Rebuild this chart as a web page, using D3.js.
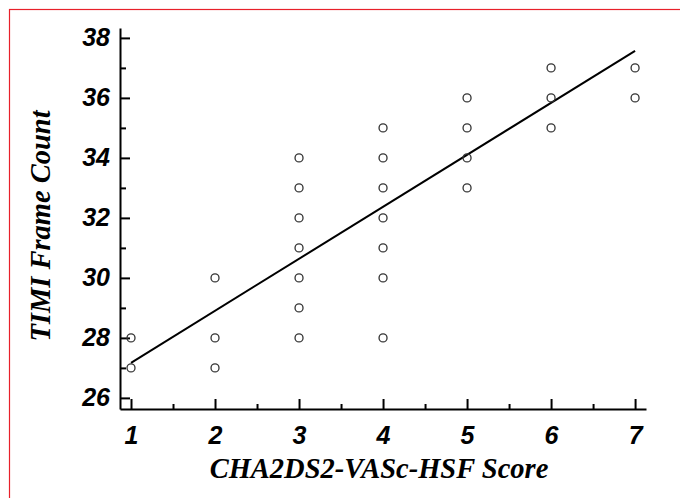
<!DOCTYPE html>
<html>
<head>
<meta charset="utf-8">
<script src="https://cdn.jsdelivr.net/npm/d3@7"></script>
<style>
  body { margin: 0; background: #fff; }
  svg { display: block; }
</style>
</head>
<body>
<div id="plot"></div>
<script>
'use strict';

// score groups and the TIMI frame counts
var scores = [1, 2, 3, 4, 5, 6, 7];
var counts = [
    [28, 27],
    [30, 28, 27],
    [34, 33, 32, 31, 30, 29, 28],
    [35, 34, 33, 32, 31, 30, 28],
    [36, 35, 34, 33],
    [37, 36, 35],
    [37, 36]
];
// fitted line, value at score 1 and score 7
var fitX = [1, 7];
var fitY = [27.17, 37.57];
var xTicks = [1, 2, 3, 4, 5, 6, 7];
var yTicks = [26, 28, 30, 32, 34, 36, 38];

var width = 680, height = 498;

var svg = d3.select('#plot')
    .append('svg')
        .attr('width', width)
        .attr('height', height);

// red frame, only top and left fall in the picture
svg.append('rect')
    .attr('x', 9.5).attr('y', 9.5)
    .attr('width', 700).attr('height', 520)
    .style('fill', 'none')
    .style('stroke', '#e8202a')
    .style('stroke-width', 1.2);

var x = d3.scaleLinear().domain([0.869, 7.13]).range([120, 646]);
var y = d3.scaleLinear().domain([25.63, 38.33]).range([409, 28]);

var points = [];
scores.forEach(function (s, i) {
    counts[i].forEach(function (c) { points.push({ s: s, c: c }); });
});

// axes: ticks point inward, minor ticks halfway between
var xAxis = d3.axisBottom(x).tickValues(xTicks).tickFormat(d3.format('d'))
    .tickSizeInner(-10).tickSizeOuter(0).tickPadding(17);
var yAxis = d3.axisLeft(y).tickValues(yTicks).tickFormat(d3.format('d'))
    .tickSizeInner(-10).tickSizeOuter(0).tickPadding(10);

var gx = svg.append('g').attr('transform', 'translate(0,409)').call(xAxis);
var gy = svg.append('g').attr('transform', 'translate(120,0)').call(yAxis);

svg.append('g').attr('transform', 'translate(0,409)')
    .call(d3.axisBottom(x).tickValues(d3.range(1.5, 7, 1)).tickSizeInner(-5).tickSizeOuter(0).tickFormat(''))
    .call(g => g.select('.domain').remove());
svg.append('g').attr('transform', 'translate(120,0)')
    .call(d3.axisLeft(y).tickValues(d3.range(27, 38, 2)).tickSizeInner(-6).tickSizeOuter(0).tickFormat(''))
    .call(g => g.select('.domain').remove());

svg.selectAll('.domain, .tick line')
    .style('stroke', '#000')
    .style('stroke-width', 2);

[gx, gy].forEach(function (g) {
    g.selectAll('.tick text')
        .style('font-family', '"Liberation Sans", Arial, sans-serif')
        .style('font-weight', 'bold')
        .style('font-style', 'italic')
        .style('font-size', '25px')
        .style('fill', '#000');
});
gx.selectAll('.tick text').attr('dy', '0.71em');

// regression line
svg.append('line')
    .attr('x1', x(fitX[0])).attr('y1', y(fitY[0]))
    .attr('x2', x(fitX[1])).attr('y2', y(fitY[1]))
    .style('stroke', '#000')
    .style('stroke-width', 2);

svg.selectAll('circle')
    .data(points)
    .enter()
    .append('circle')
    .attr('cx', d => x(d.s))
    .attr('cy', d => y(d.c))
    .attr('r', 4)
    .style('fill', 'none')
    .style('stroke', '#333')
    .style('stroke-width', 1.3);

// axis titles
svg.append('text')
    .attr('x', 379).attr('y', 478)
    .attr('text-anchor', 'middle')
    .style('font-family', '"Liberation Serif", "Times New Roman", serif')
    .style('font-weight', 'bold')
    .style('font-style', 'italic')
    .style('font-size', '28.5px')
    .style('fill', '#000')
    .text('CHA2DS2-VASc-HSF Score');

svg.append('text')
    .attr('transform', 'translate(50,226) rotate(-90)')
    .attr('text-anchor', 'middle')
    .style('font-family', '"Liberation Serif", "Times New Roman", serif')
    .style('font-weight', 'bold')
    .style('font-style', 'italic')
    .style('font-size', '28.5px')
    .style('fill', '#000')
    .text('TIMI Frame Count');
</script>
</body>
</html>
